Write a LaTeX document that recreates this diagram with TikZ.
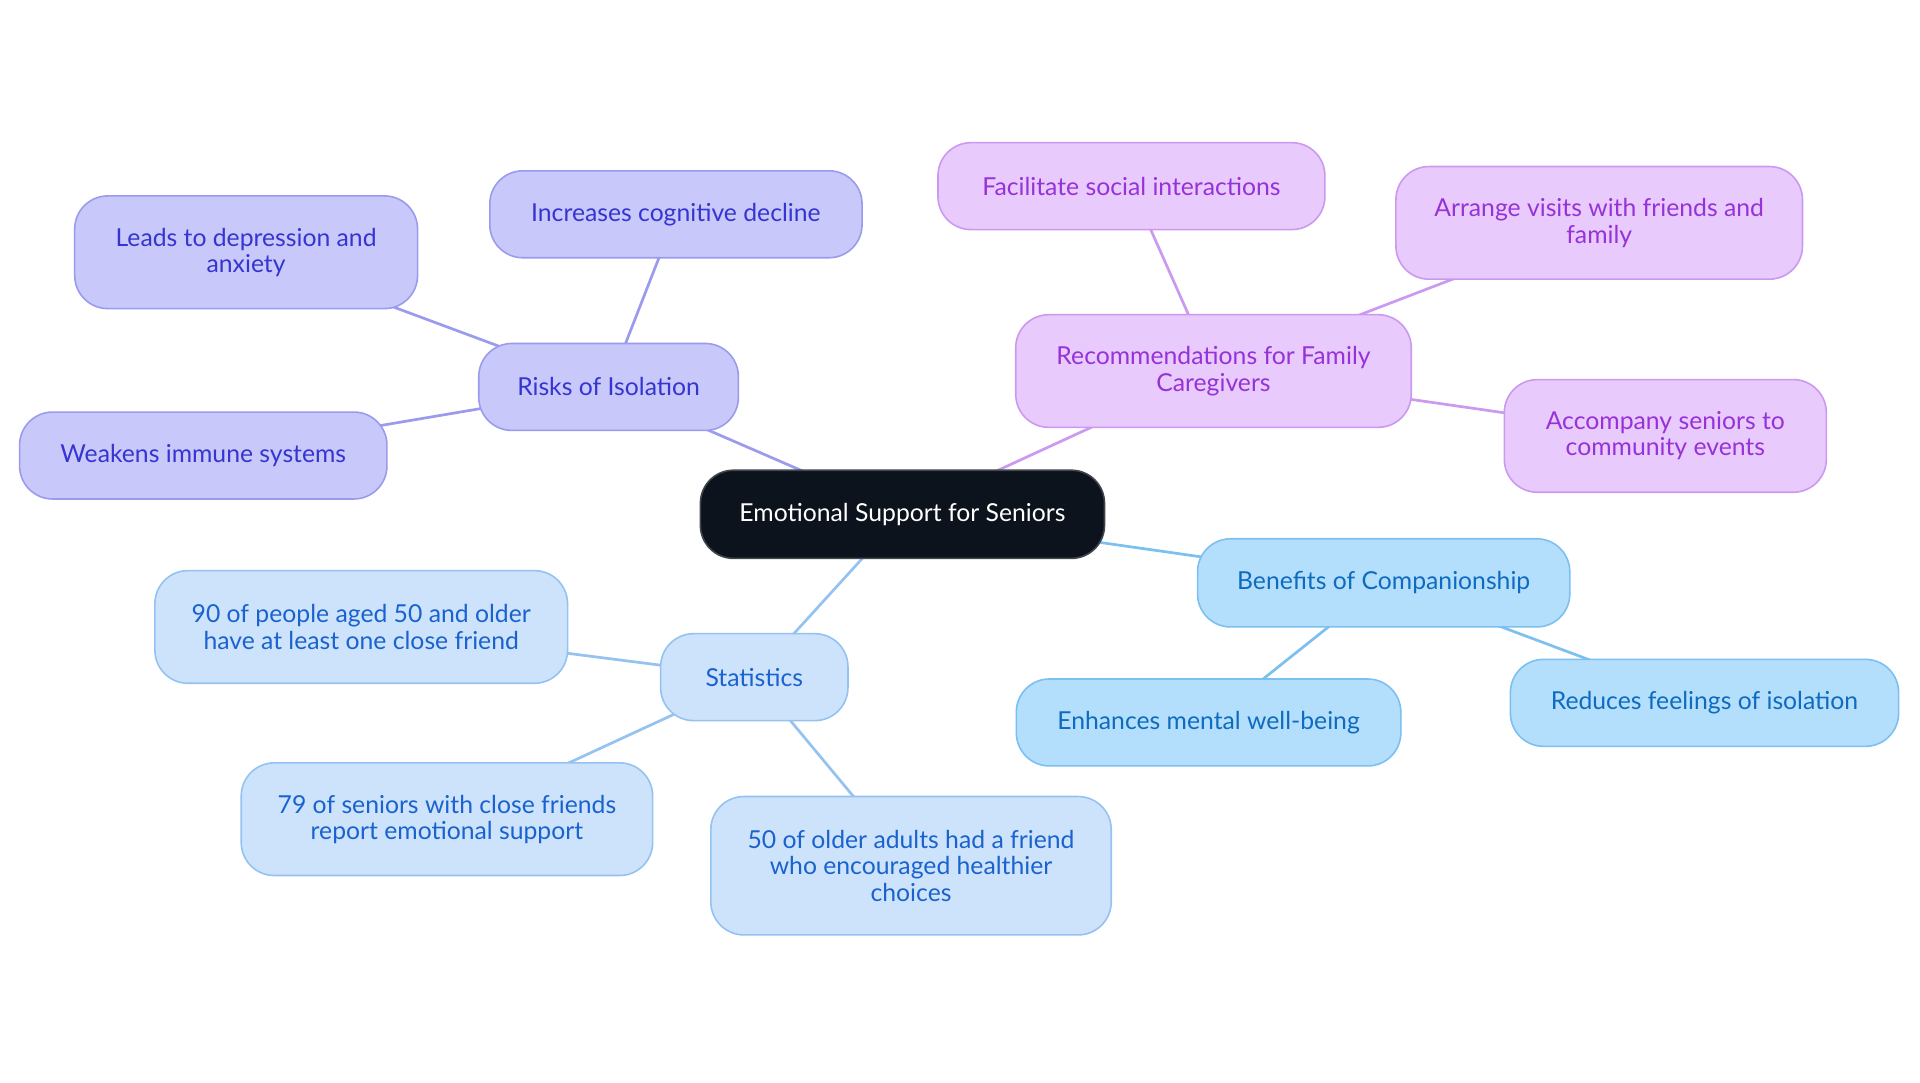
\documentclass[tikz,border=0pt]{standalone}
\usepackage{fontspec}
\setmainfont{Lato}
\usepackage{tikz}
\usetikzlibrary{backgrounds}
\definecolor{rootfill}{HTML}{0D131C}
\definecolor{rootline}{HTML}{41464D}
\definecolor{riskfill}{HTML}{C8C8FB}
\definecolor{riskline}{HTML}{9B9BEE}
\definecolor{risktext}{HTML}{3535D0}
\definecolor{recfill}{HTML}{E8CAFD}
\definecolor{recline}{HTML}{CB99EF}
\definecolor{rectext}{HTML}{9632D8}
\definecolor{benfill}{HTML}{B4DFFC}
\definecolor{benline}{HTML}{7CC0F0}
\definecolor{bentext}{HTML}{0E6BBF}
\definecolor{statfill}{HTML}{CDE3FB}
\definecolor{statline}{HTML}{94C2F1}
\definecolor{stattext}{HTML}{1A62CE}
\tikzset{
  box/.style={rounded corners=27pt, line width=1.3pt, align=center, inner sep=0pt,
    font=\fontsize{20.2}{21.5}\selectfont},
  rootbox/.style={box, fill=rootfill, draw=rootline, text=white},
  riskbox/.style={box, fill=riskfill, draw=riskline, text=risktext},
  recbox/.style={box, fill=recfill, draw=recline, text=rectext},
  benbox/.style={box, fill=benfill, draw=benline, text=bentext},
  statbox/.style={box, fill=statfill, draw=statline, text=stattext},
  link/.style={line width=2.2pt}
}

\begin{document}
\begin{tikzpicture}[x=1pt, y=-1pt]
		%%%%% START %%%%%
		\useasboundingbox (0, 0) rectangle (1568, 884);
		
		\node[rootbox, minimum width=330, minimum height=72] (root) at (737, 420) {Emotional Support for Seniors};
		
		\node[riskbox, minimum width=212, minimum height=71] (risks) at (497, 316) {Risks of Isolation};
		\node[riskbox, minimum width=304, minimum height=71] (cognitive) at (552, 175) {Increases cognitive decline};
		\node[riskbox, minimum width=280, minimum height=92] (depression) at (201, 206) {Leads to depression and\\anxiety};
		\node[riskbox, minimum width=300, minimum height=71] (immune) at (166, 372) {Weakens immune systems};
		
		\node[recbox, minimum width=323, minimum height=92] (recs) at (991, 303) {Recommendations for Family\\Caregivers};
		\node[recbox, minimum width=316, minimum height=71] (social) at (924, 152) {Facilitate social interactions};
		\node[recbox, minimum width=332, minimum height=92] (visits) at (1306, 182) {Arrange visits with friends and\\family};
		\node[recbox, minimum width=263, minimum height=92] (events) at (1360, 356) {Accompany seniors to\\community events};
		
		\node[benbox, minimum width=304, minimum height=72] (benefits) at (1130, 476) {Benefits of Companionship};
		\node[benbox, minimum width=314, minimum height=71] (mental) at (987, 590) {Enhances mental well-being};
		\node[benbox, minimum width=317, minimum height=71] (lonely) at (1392, 574) {Reduces feelings of isolation};
		
		\node[statbox, minimum width=153, minimum height=71] (stats) at (616, 553) {Statistics};
		\node[statbox, minimum width=337, minimum height=92] (ninety) at (295, 512) {90 of people aged 50 and older\\have at least one close friend};
		\node[statbox, minimum width=336, minimum height=92] (seventynine) at (365, 669) {79 of seniors with close friends\\report emotional support};
		\node[statbox, minimum width=327, minimum height=113] (fifty) at (744, 707) {50 of older adults had a friend\\who encouraged healthier\\choices};
		
		\begin{scope}[on background layer]
		\fill[white] (0, 0) rectangle (1568, 884);
		
		\draw[link, riskline] (root.center) -- (risks.center);
		\draw[link, riskline] (risks.center) -- (cognitive.center);
		\draw[link, riskline] (risks.center) -- (depression.center);
		\draw[link, riskline] (risks.center) -- (immune.center);
		
		\draw[link, recline] (root.center) -- (recs.center);
		\draw[link, recline] (recs.center) -- (social.center);
		\draw[link, recline] (recs.center) -- (visits.center);
		\draw[link, recline] (recs.center) -- (events.center);
		
		\draw[link, benline] (root.center) -- (benefits.center);
		\draw[link, benline] (benefits.center) -- (mental.center);
		\draw[link, benline] (benefits.center) -- (lonely.center);
		
		\draw[link, statline] (root.center) -- (stats.center);
		\draw[link, statline] (stats.center) -- (ninety.center);
		\draw[link, statline] (stats.center) -- (seventynine.center);
		\draw[link, statline] (stats.center) -- (fifty.center);
		\end{scope}
		%%%%% END %%%%%
	\end{tikzpicture}
\end{document}
